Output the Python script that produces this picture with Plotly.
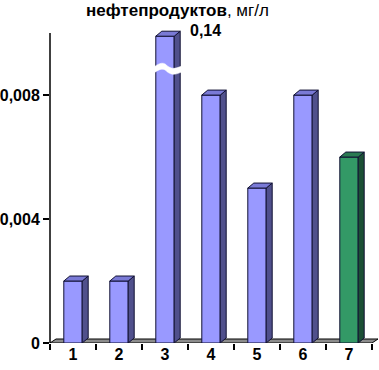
import plotly.graph_objects as go

# ---- data ----
categories = ["1", "2", "3", "4", "5", "6", "7"]
values = [0.002, 0.002, 0.14, 0.008, 0.005, 0.008, 0.006]
display_cap = 0.0099          # bar 3 is drawn broken at the top of the axis
big_label = "0,14"
y_tickvals = [0, 0.004, 0.008]
y_ticktext = ["0", "0,004", "0,008"]
title_bold = "нефтепродуктов"
title_unit = ", мг/л"

# ---- styling ----
front_colors = ["#9999FF"] * 6 + ["#339966"]
top_colors = ["#7A7AD6"] * 6 + ["#2A7A52"]
side_colors = ["#50508C"] * 6 + ["#1B4F35"]
FONT = "Arial, Liberation Sans, sans-serif"
W, H = 379, 370
L, R, T, B = 50, 7, 30, 27
YMAX = 0.0101
x_pos = list(range(1, len(categories) + 1))
bar_w = 0.4
plot_w = W - L - R
plot_h = H - T - B
px_x = plot_w / len(categories)
px_y = plot_h / YMAX
dx = 6 / px_x          # 3D depth in x units
dy = 5 / px_y          # 3D depth in y units

shown = [min(v, display_cap) for v in values]

fig = go.Figure()
fig.add_trace(go.Bar(
    x=x_pos, y=shown, width=bar_w,
    marker=dict(color=front_colors, line=dict(color="#111133", width=1)),
    hoverinfo="skip", showlegend=False,
))

shapes = []
# floor slab
fdx = 6 / plot_w
shapes.append(dict(type="path", xref="paper", yref="y", layer="below",
                   path=f"M 0,0 L 1,0 L {1+fdx},{dy*0.8} L {fdx},{dy*0.8} Z",
                   fillcolor="#8C8C8C", line=dict(color="#000000", width=1)))

for xc, v, tc, sc in zip(x_pos, shown, top_colors, side_colors):
    xl, xr = xc - bar_w / 2, xc + bar_w / 2
    shapes.append(dict(type="path", xref="x", yref="y", layer="above",
                       path=f"M {xr},0 L {xr+dx},{dy} L {xr+dx},{v+dy} L {xr},{v} Z",
                       fillcolor=sc, line=dict(color="#111133", width=1)))
    shapes.append(dict(type="path", xref="x", yref="y", layer="above",
                       path=f"M {xl},{v} L {xl+dx},{v+dy} L {xr+dx},{v+dy} L {xr},{v} Z",
                       fillcolor=tc, line=dict(color="#111133", width=1)))

# break mark on the tall bar
bi = values.index(max(values))
bx = x_pos[bi]
yc = (343 - 69) / px_y
h = 3.0 / px_y
a = 2.0 / px_y
x0 = bx - bar_w / 2 - 0.07
x1 = bx + bar_w / 2 + dx + 0.04
xm = (x0 + x1) / 2
path = (f"M {x0},{yc+h-a} C {x0+(xm-x0)*0.5},{yc+h+2*a} {xm-(xm-x0)*0.2},{yc+h+2*a} {xm},{yc+h} "
        f"C {xm+(x1-xm)*0.4},{yc+h-2*a} {x1-(x1-xm)*0.4},{yc+h-a} {x1},{yc+h} "
        f"L {x1},{yc-h} "
        f"C {x1-(x1-xm)*0.4},{yc-h-a} {xm+(x1-xm)*0.4},{yc-h-2*a} {xm},{yc-h} "
        f"C {xm-(xm-x0)*0.2},{yc-h+2*a} {x0+(xm-x0)*0.5},{yc-h+2*a} {x0},{yc-h-a} Z")
shapes.append(dict(type="path", xref="x", yref="y", layer="above", path=path,
                   fillcolor="white", line=dict(color="white", width=0.5)))

# y axis line
shapes.append(dict(type="line", xref="paper", yref="y", x0=0, x1=0, y0=0, y1=0.01,
                   line=dict(color="black", width=1.5)))

boundaries = [x - 0.5 for x in x_pos] + [x_pos[-1] + 0.5]

fig.update_layout(
    width=W, height=H, margin=dict(l=L, r=R, t=T, b=B),
    paper_bgcolor="white", plot_bgcolor="white",
    font=dict(family=FONT, size=16, color="black"),
    shapes=shapes,
    xaxis=dict(range=[0.5, len(categories) + 0.5], tickvals=boundaries,
               showticklabels=False, ticks="outside", ticklen=6, tickwidth=1.5,
               tickcolor="black", showgrid=False, zeroline=False, showline=False,
               automargin=False),
    xaxis2=dict(range=[0.5, len(categories) + 0.5], overlaying="x", anchor="y",
                side="bottom", tickvals=x_pos, ticktext=categories, ticks="",
                showgrid=False, zeroline=False, showline=False, automargin=False,
                tickfont=dict(family=FONT, size=16, color="black", weight="bold")),
    yaxis=dict(range=[0, YMAX], tickvals=y_tickvals, ticktext=y_ticktext,
               ticks="outside", ticklen=6, tickwidth=1.5, tickcolor="black",
               showgrid=False, zeroline=False, showline=False, automargin=False,
               tickfont=dict(family=FONT, size=16, color="black", weight="bold")),
    bargap=0.6,
)
# invisible trace to activate xaxis2
fig.add_trace(go.Scatter(x=[x_pos[0]], y=[0], xaxis="x2", mode="markers",
                         marker=dict(opacity=0), hoverinfo="skip", showlegend=False))

fig.add_annotation(xref="paper", yref="paper", x=(177 - L) / plot_w, y=(343 - 10) / plot_h,
                   text=f"<b>{title_bold}</b>{title_unit}", showarrow=False,
                   xanchor="center", yanchor="middle",
                   font=dict(family=FONT, size=17, color="black"))
fig.add_annotation(xref="x", yref="y", x=bx + 0.5, y=display_cap, text=f"<b>{big_label}</b>",
                   showarrow=False, xanchor="left", yanchor="middle", yshift=6,
                   font=dict(family=FONT, size=16, color="black"))

fig.write_html("out.html", config={"displayModeBar": False},
               post_script="document.body.style.margin='0';document.body.style.overflow='hidden';")
